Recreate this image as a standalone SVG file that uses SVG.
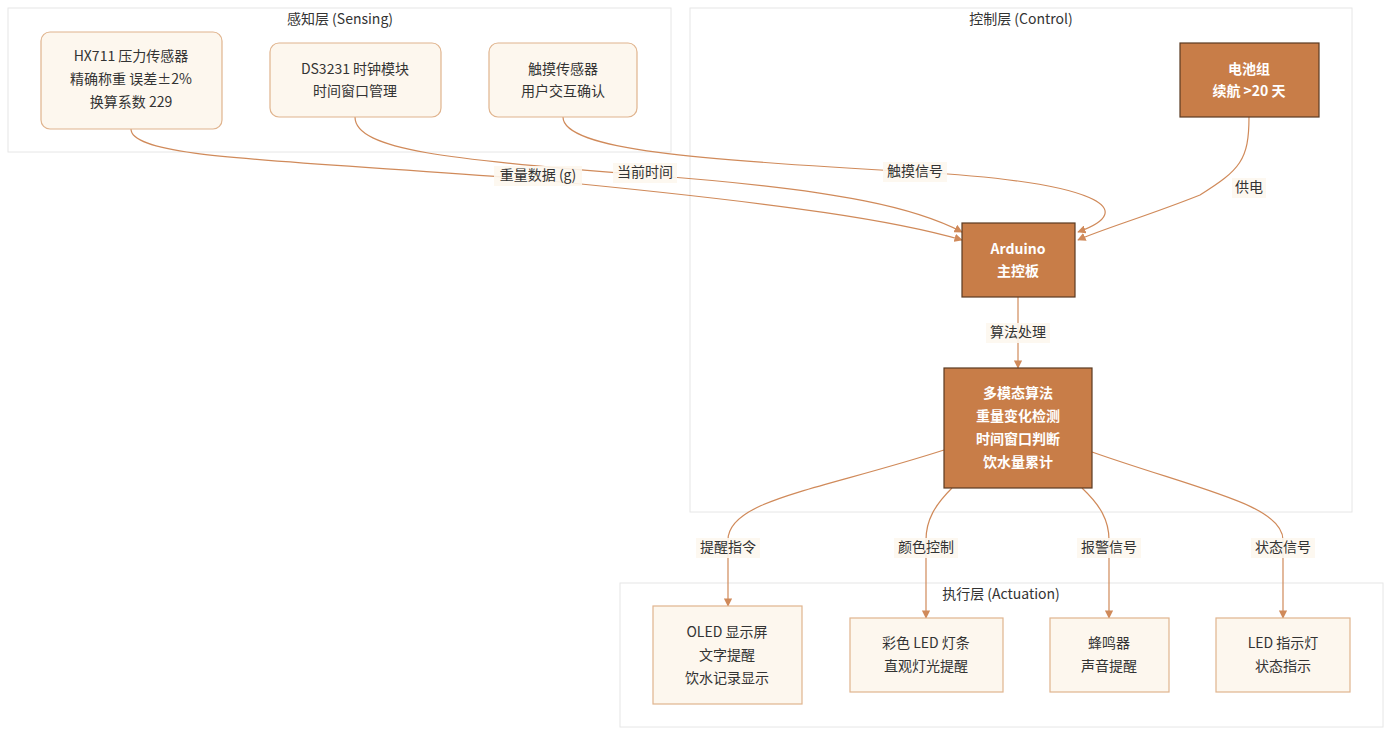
<svg xmlns="http://www.w3.org/2000/svg" width="1400" height="741" viewBox="0 0 1400 741">
<style>
text{font-family:"Noto Sans CJK SC","Noto Sans",sans-serif;font-size:14px;fill:#333;text-anchor:middle;dominant-baseline:middle}
.grp{fill:#fff;stroke:#e6e6e6;stroke-width:1}
.light{fill:#fdf7ee;stroke:#e0b48e;stroke-width:1.2}
.dark{fill:#c87d48;stroke:#5a3a22;stroke-width:1.2}
.w{fill:#fff;font-weight:bold}
.e{fill:none;stroke:#d08a5a;stroke-width:1.2;marker-end:url(#a)}
.lb{fill:#fdf7ee;opacity:0.9}
</style>
<defs><marker id="a" viewBox="0 0 10 10" refX="9" refY="5" markerWidth="7" markerHeight="7" orient="auto"><path d="M0,0L10,5L0,10z" fill="#d08a5a"/></marker></defs>
<rect width="1400" height="741" fill="#fff"/>
<g id="sensing"><rect class="grp" x="8" y="8" width="663" height="144"/><text x="340" y="20">感知层 (Sensing)</text></g>
<g id="control"><rect class="grp" x="690" y="8" width="662" height="504"/><text x="1021" y="20">控制层 (Control)</text></g>
<g id="actuation"><rect class="grp" x="620" y="583" width="763" height="144"/><text x="1001" y="595">执行层 (Actuation)</text></g>
<g id="edges">
<path class="e" d="M131,129 C131,160 300,160 540,180 C800,205 900,222 962,240"/>
<path class="e" d="M355,117 C355,150 450,160 645,175 C850,190 920,210 962,232"/>
<path class="e" d="M563,117 C563,150 700,160 915,172 C1100,182 1140,210 1078,232"/>
<path class="e" d="M1249,117 C1249,160 1240,170 1200,195 C1150,215 1100,230 1078,240"/>
<path class="e" d="M1018,297 L1018,368"/>
<path class="e" d="M944,450 C820,490 728,500 728,540 L728,606"/>
<path class="e" d="M952,488 C935,505 926,520 926,540 L926,618"/>
<path class="e" d="M1082,488 C1100,505 1109,520 1109,540 L1109,618"/>
<path class="e" d="M1092,452 C1200,490 1283,505 1283,540 L1283,618"/>
<rect class="lb" x="494" y="166" width="88" height="20"/><text x="538" y="176">重量数据 (g)</text>
<rect class="lb" x="613" y="163" width="64" height="20"/><text x="645" y="173">当前时间</text>
<rect class="lb" x="883" y="162" width="64" height="20"/><text x="915" y="172">触摸信号</text>
<rect class="lb" x="1232" y="178" width="34" height="20"/><text x="1249" y="188">供电</text>
<rect class="lb" x="986" y="323" width="64" height="20"/><text x="1018" y="333">算法处理</text>
<rect class="lb" x="696" y="538" width="64" height="20"/><text x="728" y="548">提醒指令</text>
<rect class="lb" x="894" y="538" width="64" height="20"/><text x="926" y="548">颜色控制</text>
<rect class="lb" x="1077" y="538" width="64" height="20"/><text x="1109" y="548">报警信号</text>
<rect class="lb" x="1251" y="538" width="64" height="20"/><text x="1283" y="548">状态信号</text>
</g>
<g id="hx711"><rect class="light" x="41" y="32" width="181" height="97" rx="9"/><text x="131" y="57">HX711 压力传感器</text><text x="131" y="80">精确称重 误差±2%</text><text x="131" y="103">换算系数 229</text></g>
<g id="ds3231"><rect class="light" x="270" y="43" width="171" height="74" rx="9"/><text x="355" y="70">DS3231 时钟模块</text><text x="355" y="92">时间窗口管理</text></g>
<g id="touch"><rect class="light" x="489" y="43" width="148" height="74" rx="9"/><text x="563" y="70">触摸传感器</text><text x="563" y="92">用户交互确认</text></g>
<g id="battery"><rect class="dark" x="1180" y="43" width="139" height="74"/><text class="w" x="1249" y="70">电池组</text><text class="w" x="1249" y="92">续航 &gt;20 天</text></g>
<g id="arduino"><rect class="dark" x="962" y="223" width="113" height="74"/><text class="w" x="1018" y="250">Arduino</text><text class="w" x="1018" y="272">主控板</text></g>
<g id="algo"><rect class="dark" x="944" y="368" width="148" height="120"/><text class="w" x="1018" y="394">多模态算法</text><text class="w" x="1018" y="417">重量变化检测</text><text class="w" x="1018" y="440">时间窗口判断</text><text class="w" x="1018" y="463">饮水量累计</text></g>
<g id="oled"><rect class="light" x="653" y="606" width="149" height="98"/><text x="727" y="633">OLED 显示屏</text><text x="727" y="656">文字提醒</text><text x="727" y="679">饮水记录显示</text></g>
<g id="ledstrip"><rect class="light" x="850" y="618" width="153" height="74"/><text x="926" y="644">彩色 LED 灯条</text><text x="926" y="667">直观灯光提醒</text></g>
<g id="buzzer"><rect class="light" x="1050" y="618" width="119" height="74"/><text x="1109" y="644">蜂鸣器</text><text x="1109" y="667">声音提醒</text></g>
<g id="led"><rect class="light" x="1216" y="618" width="134" height="74"/><text x="1283" y="644">LED 指示灯</text><text x="1283" y="667">状态指示</text></g>
</svg>
